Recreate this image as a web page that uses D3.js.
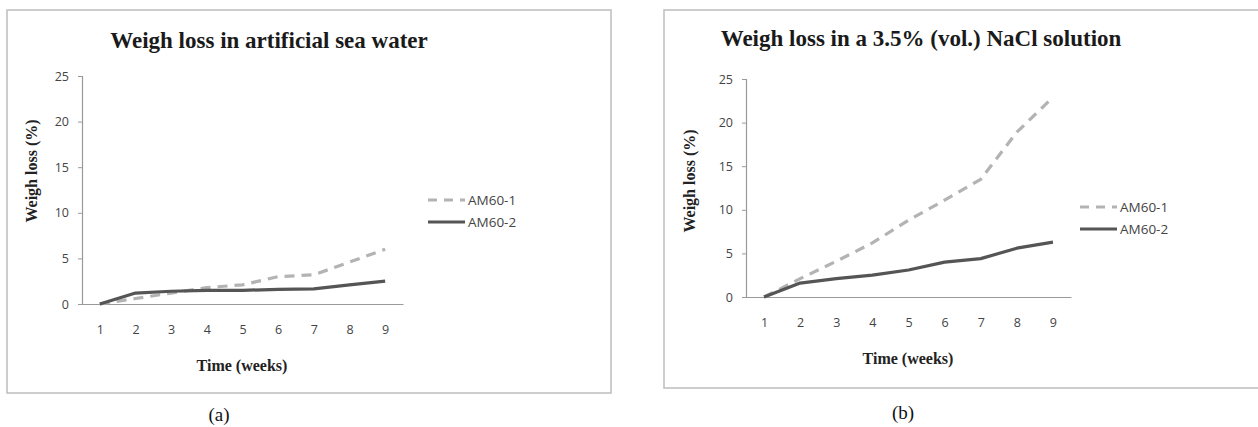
<!DOCTYPE html>
<html>
<head>
<meta charset="utf-8">
<script src="https://cdn.jsdelivr.net/npm/d3@7"></script>
<style>
  html, body { margin: 0; padding: 0; background: #fff; }
  svg { display: block; }
</style>
</head>
<body>
<svg id="chart" width="1258" height="427"></svg>
<script>
// ---- Data ----
const weeks = [1, 2, 3, 4, 5, 6, 7, 8, 9];
const yTicks = [0, 5, 10, 15, 20, 25];
const seriesNames = ["AM60-1", "AM60-2"];

// (a) artificial sea water
const seaAM601 = [0, 0.6, 1.2, 1.8, 2.1, 3.0, 3.2, 4.6, 6.0];
const seaAM602 = [0, 1.2, 1.4, 1.5, 1.5, 1.6, 1.65, 2.1, 2.5];

// (b) 3.5% NaCl solution
const naclAM601 = [0, 2.1, 4.1, 6.2, 8.8, 11.1, 13.5, 18.9, 22.9];
const naclAM602 = [0, 1.6, 2.1, 2.5, 3.1, 4.0, 4.4, 5.6, 6.3];

const titles = ["Weigh loss in artificial sea water", "Weigh loss in a 3.5% (vol.) NaCl solution"];
const captions = ["(a)", "(b)"];
const xTitle = "Time (weeks)";
const yTitle = "Weigh loss (%)";

// ---- Drawing ----
const svg = d3.select("#chart");
const styles = [
  { color: "#b3b3b3", dash: "10,7" },
  { color: "#555555", dash: null }
];

function drawPanel(cfg) {
  const g = svg.append("g");
  // frame
  g.append("rect")
    .attr("x", cfg.frame[0]).attr("y", cfg.frame[1])
    .attr("width", cfg.frame[2]).attr("height", cfg.frame[3])
    .attr("fill", "#fff").attr("stroke", "#bdbdbd").attr("stroke-width", 1.5);

  const x = d3.scalePoint().domain(weeks).range([cfg.plot.x0, cfg.plot.x1]).padding(0.5);
  const y = d3.scaleLinear().domain([0, 25]).range([cfg.plot.y0, cfg.plot.y1]);

  // title
  g.append("text")
    .attr("x", cfg.titlePos[0]).attr("y", cfg.titlePos[1])
    .attr("text-anchor", "middle")
    .attr("font-family", "Liberation Serif, serif").attr("font-weight", "bold")
    .attr("font-size", 23).attr("fill", "#1a1a1a")
    .text(cfg.title);

  // y axis
  const yAxis = g.append("g")
    .attr("transform", `translate(${cfg.plot.x0},0)`)
    .call(d3.axisLeft(y).tickValues(yTicks).tickSize(4).tickPadding(9));
  yAxis.select(".domain").attr("stroke", "#9a9a9a").attr("stroke-width", 1.2);
  yAxis.selectAll(".tick line").attr("stroke", "#9a9a9a");
  yAxis.selectAll(".tick text")
    .attr("font-family", "Open Sans, sans-serif").attr("font-size", 12.5).attr("fill", "#444");

  // x axis
  const xAxis = g.append("g")
    .attr("transform", `translate(0,${cfg.plot.y0})`)
    .call(d3.axisBottom(x).tickSize(0).tickPadding(21).tickSizeOuter(0));
  xAxis.select(".domain").attr("stroke", "#9a9a9a").attr("stroke-width", 1.2);
  xAxis.selectAll(".tick text")
    .attr("font-family", "Open Sans, sans-serif").attr("font-size", 12.5).attr("fill", "#444");

  // axis titles
  g.append("text")
    .attr("x", cfg.xTitlePos[0]).attr("y", cfg.xTitlePos[1])
    .attr("text-anchor", "middle")
    .attr("font-family", "Liberation Serif, serif").attr("font-weight", "bold")
    .attr("font-size", 16).attr("fill", "#222")
    .text(xTitle);
  g.append("text")
    .attr("transform", `translate(${cfg.yTitlePos[0]},${cfg.yTitlePos[1]}) rotate(-90)`)
    .attr("text-anchor", "middle")
    .attr("font-family", "Liberation Serif, serif").attr("font-weight", "bold")
    .attr("font-size", 16).attr("fill", "#222")
    .text(yTitle);

  // lines
  const line = d3.line().x((d, i) => x(weeks[i])).y(d => y(d));
  cfg.series.forEach((vals, si) => {
    g.append("path")
      .datum(vals)
      .attr("d", line)
      .attr("fill", "none")
      .attr("stroke", styles[si].color)
      .attr("stroke-width", 3.2)
      .attr("stroke-linejoin", "round")
      .attr("stroke-dasharray", styles[si].dash);
  });

  // legend
  seriesNames.forEach((name, si) => {
    const ly = cfg.legend[1] + si * 22;
    g.append("line")
      .attr("x1", cfg.legend[0]).attr("x2", cfg.legend[0] + 37)
      .attr("y1", ly).attr("y2", ly)
      .attr("stroke", styles[si].color).attr("stroke-width", 3.2)
      .attr("stroke-dasharray", si === 0 ? "9,7" : null);
    g.append("text")
      .attr("x", cfg.legend[0] + 40).attr("y", ly + 5)
      .attr("font-family", "Open Sans, sans-serif").attr("font-size", 13.5).attr("fill", "#444")
      .text(name);
  });

  // caption
  svg.append("text")
    .attr("x", cfg.captionPos[0]).attr("y", cfg.captionPos[1])
    .attr("text-anchor", "middle")
    .attr("font-family", "Liberation Serif, serif")
    .attr("font-size", 19).attr("fill", "#111")
    .text(cfg.caption);
}

drawPanel({
  frame: [7, 10, 604, 383],
  plot: { x0: 82, x1: 403, y0: 304, y1: 76 },
  title: titles[0], titlePos: [269, 48],
  xTitlePos: [242, 371], yTitlePos: [37, 171],
  series: [seaAM601, seaAM602],
  legend: [428, 200],
  caption: captions[0], captionPos: [219, 421]
});

drawPanel({
  frame: [664, 10, 610, 378],
  plot: { x0: 746, x1: 1071, y0: 297, y1: 79 },
  title: titles[1], titlePos: [921, 46],
  xTitlePos: [908, 364], yTitlePos: [695, 181],
  series: [naclAM601, naclAM602],
  legend: [1080, 207],
  caption: captions[1], captionPos: [903, 419]
});
</script>
</body>
</html>
